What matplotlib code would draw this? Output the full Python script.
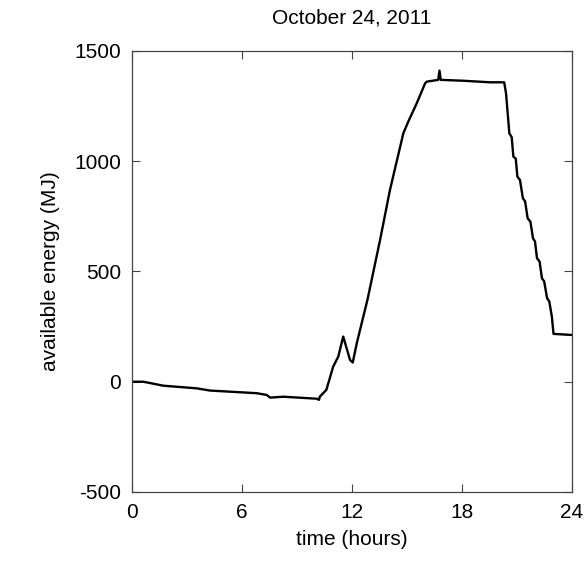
import matplotlib
matplotlib.use('Agg')
import matplotlib.pyplot as plt

# time (hours) and available energy (MJ)
hours = [0.0, 0.62, 1.71, 3.53, 4.25, 6.8, 7.35, 7.53, 8.26, 10.07, 10.2, 10.24,
         10.6, 10.97, 11.25, 11.52, 11.89, 12.04, 12.26, 12.84, 13.53, 14.07,
         14.8, 15.07, 15.53, 15.99, 16.08, 16.7, 16.77, 16.84, 18.08, 19.53,
         20.3, 20.4, 20.58, 20.71, 20.8, 20.93, 21.02, 21.16, 21.32, 21.44,
         21.58, 21.73, 21.87, 21.98, 22.09, 22.23, 22.36, 22.48, 22.64, 22.76,
         22.9, 22.99, 24.0]
energy = [0, 0, -18, -30, -40, -52, -60, -72, -68, -77, -82, -68,
          -37, 68, 114, 205, 99, 87, 175, 371, 643, 870,
          1127, 1180, 1263, 1354, 1361, 1369, 1411, 1369, 1365, 1358,
          1358, 1308, 1127, 1109, 1021, 1012, 930, 915, 832, 818,
          741, 726, 651, 636, 560, 545, 469, 455, 379, 364,
          295, 217, 212]

xticks = [0, 6, 12, 18, 24]
yticks = [-500, 0, 500, 1000, 1500]

plt.rcParams['font.family'] = ['Liberation Sans', 'DejaVu Sans']
plt.rcParams['axes.unicode_minus'] = False

fig = plt.figure(figsize=(5.87, 5.64), dpi=100)
ax = fig.add_axes([0.2249, 0.1277, 0.7496, 0.7819])
ax.plot(hours, energy, color='black', linewidth=1.7)

ax.set_xlim(0, 24)
ax.set_ylim(-500, 1500)
ax.set_xticks(xticks)
ax.set_yticks(yticks)
ax.tick_params(direction='in', length=6, width=0.8, color='#444444',
               top=True, right=True, labelsize=15, pad=8)
for s in ax.spines.values():
    s.set_color('#444444')
    s.set_linewidth(0.9)

ax.set_xlabel('time (hours)', fontsize=15, labelpad=6)
ax.set_ylabel('available energy (MJ)', fontsize=15, labelpad=10)
ax.set_title('October 24, 2011', fontsize=15, pad=20)

fig.savefig('out.png', dpi=100)
